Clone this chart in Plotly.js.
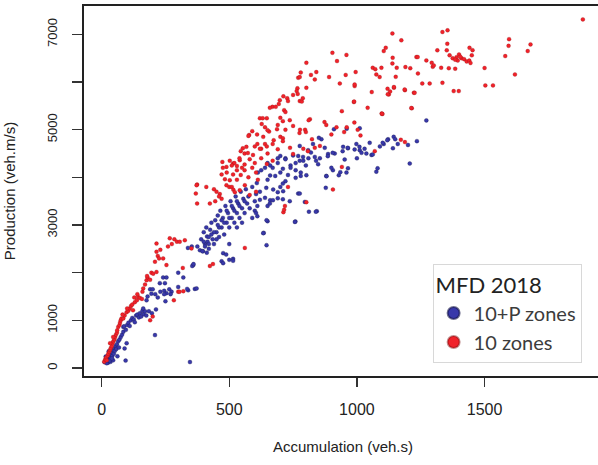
<!DOCTYPE html>
<html>
<head>
<meta charset="utf-8">
<script src="https://cdn.plot.ly/plotly-3.0.1.min.js"></script>
<style>
html,body{margin:0;padding:0;overflow:hidden;background:#fff;}
#chart{width:610px;height:465px;}
</style>
</head>
<body>
<div id="chart"></div>
<script>
// Accumulation (veh.s), Production (veh.m/s) pairs
const zones10P = [
[12,120],[15,150],[18,180],[20,140],[22,200],[25,230],[25,110],[28,170],[30,260],[32,300],
[35,210],[35,130],[38,280],[40,330],[42,250],[45,380],[45,160],[48,300],[50,420],[52,360],
[55,460],[58,400],[60,500],[62,245],[65,560],[68,430],[70,600],[75,650],[80,700],[85,760],
[90,410],[94,155],[98,520],[20,100],[30,150],[40,200],[16,240],[28,350],
[85,860],[88,875],[95,800],[100,900],[105,950],[110,880],[115,1000],[120,1050],[126,1015],[130,960],
[135,1100],[140,1120],[146,1060],[150,1150],[155,1080],[160,1200],[165,1130],[170,1190],[175,1100],[185,1190],
[163,1250],[209,690],[197,1150],[213,1230],
[176,1420],[180,1500],[190,1650],[200,1650],[195,1560],[210,1550],[228,1780],[248,1780],[241,1900],[254,1900],
[220,1480],[230,1600],[245,1620],[254,1570],[265,1650],[274,1600],[250,1400],[270,1550],[300,1700],[339,1630],
[335,1660],[365,1660],[372,1670],[359,2160],[346,125],[320,1900],[300,2000],[245,1550],[355,2140],[360,2180],
[338,2520],[353,2550],[397,2450],[405,2600],[413,2760],[476,2410],[500,2600],[470,2240],[515,2290],
[385,2470],[390,2700],[395,2450],[400,2850],[405,2550],[410,2950],[415,2650],[420,2500],[425,2900],[430,3050],
[435,2700],[440,2600],[445,3100],[450,2850],[455,3200],[460,2750],[465,3300],[470,2950],[475,3150],[480,2800],
[485,3400],[490,3050],[495,3250],[500,2950],[505,3500],[510,3150],[515,3350],[520,3050],[525,3600],[530,3250],
[535,3450],[540,3150],[545,3700],[550,3350],[555,3550],[560,3250],[565,3750],[570,3450],[575,3600],[580,3350],
[590,3800],[600,3500],[605,3650],[610,3400],[620,3700],[400,2650],[420,2750],[440,2850],[460,2950],[480,3050],
[500,3150],[520,3300],[540,3400],[560,3500],[470,3100],[490,3300],[510,3400],[530,3500],[450,2700],[430,2800],
[412,2420],[476,2200],[500,2270],[515,2250],[488,2380],[530,2950],[550,3050],[455,3000],[420,2600],[375,2550],
[608,3880],[650,3950],[680,4030],[720,3920],[760,3990],[780,4030],[880,4030],[645,3780],[672,3745],[711,3710],
[770,3660],[878,3780],[600,3300],[620,3530],[640,3570],[660,3520],[690,3560],[710,3540],[737,3500],[590,3150],
[650,3400],[610,3185],[605,3250],[812,3280],[843,3290],[759,3075],[650,3080],[635,2835],[646,2577],[659,3450],
[671,3520],[690,3690],[700,3800],[710,3870],[757,3065],[646,3100],[633,2830],[776,3660],[796,3485],[839,3280],
[612,4100],[640,4200],[660,4250],[690,4300],[710,4180],[720,4400],[740,4250],[750,4460],[760,4150],[776,4350],
[625,4150],[650,4300],[670,4200],[690,4400],[700,4450],[720,4380],[740,4200],[760,4300],[780,4100],[800,4250],
[810,4400],[730,4050],[770,4450],[790,4350],[660,4040],[700,4100],
[776,4660],[828,4700],[861,4800],[809,4570],[789,4430],[835,4430],[887,4490],[913,4500],[946,4640],[965,4610],
[998,4700],[1011,4570],[1037,4500],[1057,4470],[1105,4700],[1122,4800],[1144,4850],[1141,4610],[1235,4760],[1207,4290],
[1076,4120],[1081,4190],[959,4100],[965,4190],[906,4150],[881,4025],[802,4045],[929,4045],[851,4830],[874,4620],
[886,4445],[905,4515],[944,4550],[952,4375],[964,4620],[991,4585],[1018,4515],[1050,4725],[1062,4480],[1101,4725],
[910,5010],[960,5020],[1011,5030],[1272,5195],[1119,4780],[1150,4800],[848,4275],[855,4400],[900,4200],[935,4110],
[1010,4640],[1030,4600],[1090,4650],[820,4520],[840,4350],[1000,4400],[1160,4700],[1200,4680]
];
const zones10 = [
[10,130],[14,180],[18,220],[20,160],[24,260],[26,300],[30,340],[33,380],[36,420],[40,460],
[43,520],[46,560],[50,600],[53,650],[56,700],[60,740],[33,520],[45,650],[61,790],[65,860],
[70,900],[72,950],[75,1000],[78,1040],[85,1040],[90,1100],[98,1170],[105,1200],[110,1250],[115,1300],
[120,1330],[123,1210],[130,1380],[138,1420],[143,1490],[150,1470],[158,1450],[163,1670],[170,1750],[176,1840],
[180,1900],[178,1930],[190,1850],[195,2000],[202,1980],[209,2230],[215,2015],[215,2440],[215,2610],[220,2350],
[225,2300],[230,2480],[241,2300],[254,2160],[260,2550],[267,2720],[275,2600],[285,2700],[295,2650],[306,2650],
[318,2100],[326,2680],[352,2510],[283,1420],[300,1600],[305,1600],[320,1610],[190,1000],[200,1080],[140,1550],
[160,1600],[128,1480],[100,1250],[82,1120],
[374,3450],[374,3850],[410,3800],[440,3750],[450,3700],[463,3650],[483,3960],[500,3800],[530,3950],[561,2520],
[424,2140],[436,2180],[372,3835],[369,3660],[424,3450],[445,3500],[460,3600],[470,3550],[541,3730],[561,3835],
[580,3630],[605,3700],[712,3270],[715,3320],[718,3400],[730,3800],[802,3480],[906,3745],
[473,4325],[489,4220],[515,4290],[541,4360],[567,4640],[578,4890],[593,4470],[620,5240],[633,4850],[656,4960],
[674,4780],[669,5480],[682,5480],[698,5620],[727,5660],[750,5730],[767,5870],[770,6090],[690,5100],[700,5250],
[715,5410],[737,5200],[720,5000],[502,3940],[510,3800],[516,3740],[522,3690],[489,3835],[545,4050],[560,4150],
[575,4000],[590,4200],[605,4100],[612,3950],[530,4240],[600,4650],[625,4600],[640,4700],[560,4500],[545,4550],
[802,5880],[764,5810],[768,5750],[776,5600],[694,5540],[712,5700],[730,5600],[659,5460],[631,5240],[647,5240],
[710,5180],[720,5370],[627,5120],[640,5050],[650,4990],[575,4870],[590,4970],[609,4900],[687,5010],[700,4850],
[710,4820],[750,5080],[775,4930],[797,5000],[816,5220],[824,4800],[610,4700],[620,4600],[647,4650],[670,4700],
[690,4590],[710,4760],[738,4620],[553,4610],[573,4510],[502,4350],[520,4300],[540,4400],[560,4270],[580,4380],
[600,4300],[625,4400],[647,4280],[475,4200],[490,4100],[510,4250],[530,4150],[550,4200],[470,4060],[515,4060],
[650,4500],[670,4350],[750,4490],[790,4600],[808,4550],
[991,5915],[1058,5790],[1120,5860],[1125,5740],[1145,5880],[1188,5830],[1223,5775],[988,5580],[1042,5460],[941,5390],
[1097,5340],[1215,5450],[873,5160],[880,5100],[900,4900],[960,5050],[990,5150],[1003,5000],[950,4950],[835,4620],
[855,4660],[1172,4790],[1188,4740],[1070,4550],[941,4220],[784,5590],[788,5660],[989,5590],[1100,5330],[811,5200],
[777,5000],[800,4950],[920,5050],[1014,4880],
[904,6615],[959,6570],[922,6440],[802,6405],[776,6105],[841,6210],[835,6055],[891,6105],[956,6150],[995,6210],
[1062,6300],[933,5970],[991,5950],[780,6200],[820,6150],
[1139,7020],[1174,6875],[1105,6650],[1113,6720],[1335,7050],[1355,7085],[1354,6805],[1315,6665],[1352,6665],[1441,6720],
[1453,6670],[1363,6560],[1450,6560],[1375,6500],[1390,6520],[1400,6580],[1410,6500],[1420,6480],[1430,6430],[1440,6450],
[1395,6450],[1385,6470],[1445,6400],[1405,6530],[1233,6525],[1238,6525],[1140,6510],[1139,6390],[1272,6455],[1293,6405],
[1297,6320],[1301,6350],[1330,6300],[1360,6290],[1385,6280],[1072,6270],[1096,6300],[1156,6300],[1190,6315],[1209,6290],
[1076,6160],[1089,6105],[1152,6110],[1239,6180],[1256,5970],[1285,5970],[1335,5985],[1121,5745],[1130,5800],[1145,5895],
[1187,5845],[1226,5775],[1379,5810],[1399,5810],[1500,6295],[1503,5930],[1533,5930],[1213,5455],[1098,5335],
[1885,7315],[1594,6760],[1596,6900],[1669,6650],[1680,6790],[1581,6545],[1619,6160]
];
const xTicks = [0, 500, 1000, 1500];
const yTicks = [0, 1000, 2000, 3000, 4000, 5000, 6000, 7000];
const yTickText = ['0', '1000', '', '3000', '', '5000', '', '7000'];
const seriesNames = ['10+P zones', '10 zones'];
const legendTitle = 'MFD 2018';

const traces = [
  {type:'scatter', mode:'markers', name:seriesNames[0],
   x:zones10P.map(p=>p[0]), y:zones10P.map(p=>p[1]),
   marker:{color:'#3838aa', size:4, line:{color:'rgba(20,20,70,0.6)', width:0.5}}},
  {type:'scatter', mode:'markers', name:seriesNames[1],
   x:zones10.map(p=>p[0]), y:zones10.map(p=>p[1]),
   marker:{color:'#f0222a', size:4, line:{color:'rgba(120,10,10,0.45)', width:0.5}}}
];

const axisFont = 'Arial, Liberation Sans, sans-serif';
const layout = {
  width:610, height:465,
  margin:{l:84, r:8, t:6, b:89},
  paper_bgcolor:'#fff', plot_bgcolor:'#fff',
  showlegend:true,
  xaxis:{range:[-69,1960], tickmode:'array', tickvals:xTicks, ticktext:xTicks.map(String),
    ticks:'outside', ticklen:9, tickwidth:1.3, tickcolor:'#333',
    showline:true, linewidth:2, linecolor:'#222', mirror:true,
    showgrid:false, zeroline:false, automargin:false,
    tickfont:{family:axisFont, size:16, color:'#222'}, ticklabelstandoff:9,
    title:{text:'Accumulation (veh.s)', font:{family:axisFont, size:15, color:'#222'}, standoff:24}},
  yaxis:{range:[-168,7596], tickmode:'array', tickvals:yTicks, ticktext:yTickText, tickangle:-90,
    ticks:'outside', ticklen:10, tickwidth:1.3, tickcolor:'#333',
    showline:true, linewidth:2, linecolor:'#222', mirror:true,
    showgrid:false, zeroline:false, automargin:false,
    tickfont:{family:axisFont, size:13, color:'#222'}, ticklabelstandoff:10,
    title:{text:'Production (veh.m/s)', font:{family:axisFont, size:15, color:'#222'}, standoff:26}},
  legend:{x:0.673, y:0.303, xanchor:'left', yanchor:'top',
    bgcolor:'#fff', bordercolor:'#d8d8d8', borderwidth:1,
    font:{family:'Lato, sans-serif', size:20, color:'#3c3c3c'},
    title:{text:legendTitle, font:{family:'Lato, sans-serif', size:22, color:'#222'}},
    itemsizing:'constant', tracegroupgap:0}
};
Plotly.newPlot('chart', traces, layout, {displayModeBar:false, staticPlot:true});
</script>
</body>
</html>
